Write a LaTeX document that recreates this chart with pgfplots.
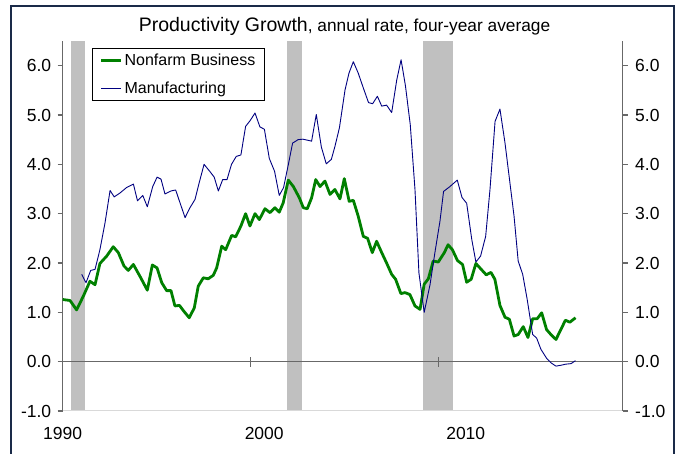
\documentclass[border=0pt]{standalone}
\usepackage{fontspec}
\setmainfont{Liberation Sans}
\usepackage{pgfplots}
\pgfplotsset{compat=1.18}
\definecolor{nfgreen}{HTML}{008000}
\definecolor{mfblue}{HTML}{000080}
\definecolor{recgray}{HTML}{C0C0C0}
\definecolor{framecol}{HTML}{1A2A48}
\definecolor{axgray}{HTML}{686868}
\definecolor{botgray}{HTML}{D9D9D9}
\pgfplotstableread{
x y
1990.00 1.26
1990.39 1.24
1990.74 1.05
1991.10 1.33
1991.45 1.63
1991.72 1.56
1991.98 1.99
1992.34 2.14
1992.69 2.33
1992.96 2.21
1993.26 1.94
1993.49 1.85
1993.76 1.97
1994.11 1.73
1994.50 1.45
1994.77 1.96
1995.02 1.90
1995.27 1.60
1995.53 1.44
1995.76 1.44
1995.97 1.13
1996.21 1.14
1996.45 1.02
1996.73 0.89
1997.00 1.09
1997.21 1.53
1997.48 1.70
1997.74 1.68
1998.01 1.75
1998.19 1.90
1998.46 2.34
1998.67 2.27
1998.99 2.56
1999.20 2.53
1999.48 2.75
1999.73 3.00
1999.96 2.75
2000.23 3.00
2000.46 2.88
2000.76 3.10
2001.03 3.02
2001.29 3.12
2001.52 3.03
2001.73 3.22
2002.00 3.68
2002.27 3.55
2002.59 3.32
2002.80 3.12
2003.01 3.10
2003.24 3.32
2003.46 3.69
2003.69 3.55
2003.95 3.66
2004.22 3.39
2004.48 3.49
2004.75 3.30
2004.98 3.71
2005.24 3.25
2005.46 3.27
2005.72 2.95
2005.99 2.54
2006.22 2.50
2006.47 2.21
2006.70 2.44
2006.97 2.21
2007.23 2.00
2007.50 1.77
2007.71 1.67
2007.99 1.38
2008.21 1.40
2008.47 1.36
2008.74 1.13
2009.01 1.06
2009.23 1.57
2009.45 1.68
2009.71 2.04
2009.98 2.02
2010.30 2.21
2010.50 2.37
2010.73 2.27
2011.00 2.05
2011.27 1.97
2011.49 1.61
2011.73 1.67
2011.98 1.99
2012.29 1.86
2012.53 1.76
2012.78 1.81
2012.99 1.67
2013.26 1.14
2013.53 0.90
2013.76 0.86
2014.01 0.52
2014.23 0.55
2014.50 0.71
2014.75 0.49
2015.00 0.87
2015.24 0.87
2015.48 0.99
2015.74 0.65
2015.97 0.55
2016.24 0.45
2016.50 0.65
2016.74 0.84
2016.98 0.80
2017.28 0.89
}\nonfarm
\pgfplotstableread{
x y
1991.01 1.77
1991.24 1.60
1991.49 1.85
1991.72 1.87
1991.98 2.27
1992.25 2.81
1992.52 3.47
1992.74 3.34
1993.05 3.42
1993.40 3.53
1993.76 3.60
1993.98 3.26
1994.26 3.37
1994.50 3.14
1994.79 3.55
1995.02 3.74
1995.23 3.70
1995.44 3.40
1995.76 3.46
1996.01 3.48
1996.24 3.22
1996.51 2.92
1996.77 3.12
1997.04 3.29
1997.27 3.64
1997.52 4.00
1997.84 3.85
1998.06 3.74
1998.28 3.46
1998.51 3.69
1998.74 3.69
1998.98 4.00
1999.23 4.16
1999.48 4.19
1999.73 4.77
1999.96 4.88
2000.23 5.04
2000.49 4.76
2000.73 4.71
2000.99 4.12
2001.27 3.86
2001.52 3.37
2001.75 3.53
2002.00 3.99
2002.23 4.43
2002.52 4.50
2002.78 4.51
2003.01 4.49
2003.24 4.47
2003.49 5.01
2003.76 4.35
2004.02 4.01
2004.29 4.10
2004.48 4.36
2004.72 4.74
2005.02 5.51
2005.23 5.85
2005.46 6.08
2005.72 5.85
2005.99 5.55
2006.27 5.25
2006.49 5.23
2006.74 5.38
2006.97 5.18
2007.23 5.20
2007.50 5.05
2007.77 5.71
2008.00 6.12
2008.23 5.60
2008.49 4.80
2008.74 3.49
2008.95 1.80
2009.23 1.00
2009.54 1.56
2009.80 2.21
2010.07 2.85
2010.26 3.45
2010.60 3.55
2010.99 3.68
2011.24 3.33
2011.49 3.21
2011.76 2.48
2011.98 2.02
2012.23 2.14
2012.50 2.54
2012.73 3.49
2013.00 4.87
2013.26 5.12
2013.53 4.43
2013.76 3.72
2014.01 2.95
2014.23 2.04
2014.47 1.77
2014.71 1.26
2015.00 0.55
2015.21 0.48
2015.44 0.25
2015.74 0.07
2016.00 -0.03
2016.24 -0.09
2016.54 -0.07
2016.77 -0.05
2017.04 -0.04
2017.28 0.02
}\manuf
\begin{document}
\begin{tikzpicture}
\path[use as bounding box] (0bp,0bp) rectangle (680bp,454bp);
\draw[framecol, line width=2.5bp] (11bp,-10bp) -- (11bp,448bp) -- (674bp,448bp) -- (674bp,-10bp);
\node[anchor=base, inner sep=0pt] at (344.5bp,422.3bp) {\fontsize{19.5bp}{23bp}\selectfont Productivity Growth\fontsize{17.3bp}{20bp}\selectfont, annual rate, four-year average};
\begin{axis}[
  at={(62.7bp,43bp)}, anchor=south west,
  width=560bp, height=370bp, scale only axis,
  xmin=1990, xmax=2019.79, ymin=-1, ymax=6.5,
  clip=false,
  axis line style={draw=none},
  xtick=\empty,
  ytick={-1,0,1,2,3,4,5,6},
  ytick pos=both, yticklabel pos=left,
  tick align=outside, major tick length=5bp,
  tick style={axgray, line width=1.2bp},
  /pgf/number format/assume math mode=true,
  yticklabel style={xshift=-3bp, /pgf/number format/.cd, fixed, fixed zerofill, precision=1},
  tick label style={font=\fontsize{17.5bp}{20bp}\selectfont},
  legend style={at={(0.0529,0.980)}, anchor=north west, draw=black, line width=0.9bp,
    font=\fontsize{16bp}{19bp}\selectfont, inner xsep=7bp, inner ysep=3bp, row sep=11bp,
    cells={anchor=west}, fill=white},
  legend cell align=left,
  legend image code/.code={\draw[#1] (0bp,0bp) -- (20bp,0bp);},
]
\addplot[fill=recgray, draw=none, forget plot] coordinates {(1990.43,-1) (1990.43,6.5) (1991.20,6.5) (1991.20,-1)};
\addplot[fill=recgray, draw=none, forget plot] coordinates {(2001.92,-1) (2001.92,6.5) (2002.73,6.5) (2002.73,-1)};
\addplot[fill=recgray, draw=none, forget plot] coordinates {(2009.17,-1) (2009.17,6.5) (2010.74,6.5) (2010.74,-1)};
\draw[botgray, line width=1bp] (rel axis cs:0,0) -- (rel axis cs:1,0);
\draw[axgray, line width=1.6bp] (axis cs:1990,0) -- (axis cs:2019.79,0);
\draw[axgray, line width=1.2bp] (axis cs:2000,0) ++(0bp,-5bp) -- ++(0bp,10bp);
\draw[axgray, line width=1.2bp] (axis cs:2010,0) ++(0bp,-5bp) -- ++(0bp,10bp);
\draw[axgray, line width=1.2bp] (axis cs:1990,0) ++(0bp,-5bp) -- ++(0bp,10bp);
\draw[axgray, line width=1.3bp] (rel axis cs:0,0) -- (rel axis cs:0,1);
\draw[axgray, line width=1.3bp] (rel axis cs:1,0) -- (rel axis cs:1,1);
\addplot[nfgreen, line width=2.8bp, line join=round] table[x=x,y=y] {\nonfarm};
\addlegendentry{Nonfarm Business}
\addplot[mfblue, line width=0.9bp, line join=round] table[x=x,y=y] {\manuf};
\addlegendentry{Manufacturing}
\node[font=\fontsize{17.5bp}{20bp}\selectfont] at (axis cs:1990,-1) [yshift=-22bp] {1990};
\node[font=\fontsize{17.5bp}{20bp}\selectfont] at (axis cs:2000.72,-1) [yshift=-22bp] {2000};
\node[font=\fontsize{17.5bp}{20bp}\selectfont] at (axis cs:2011.44,-1) [yshift=-22bp] {2010};
\end{axis}
\begin{axis}[
  at={(62.7bp,43bp)}, anchor=south west,
  width=560bp, height=370bp, scale only axis,
  xmin=1990, xmax=2019.79, ymin=-1, ymax=6.5,
  axis line style={draw=none},
  xtick=\empty,
  ytick={-1,0,1,2,3,4,5,6},
  ytick pos=right, yticklabel pos=right,
  tick align=outside, major tick length=5bp,
  tick style={draw=none},
  /pgf/number format/assume math mode=true,
  yticklabel style={xshift=4bp, /pgf/number format/.cd, fixed, fixed zerofill, precision=1},
  tick label style={font=\fontsize{17.5bp}{20bp}\selectfont},
]
\end{axis}
\end{tikzpicture}
\end{document}
